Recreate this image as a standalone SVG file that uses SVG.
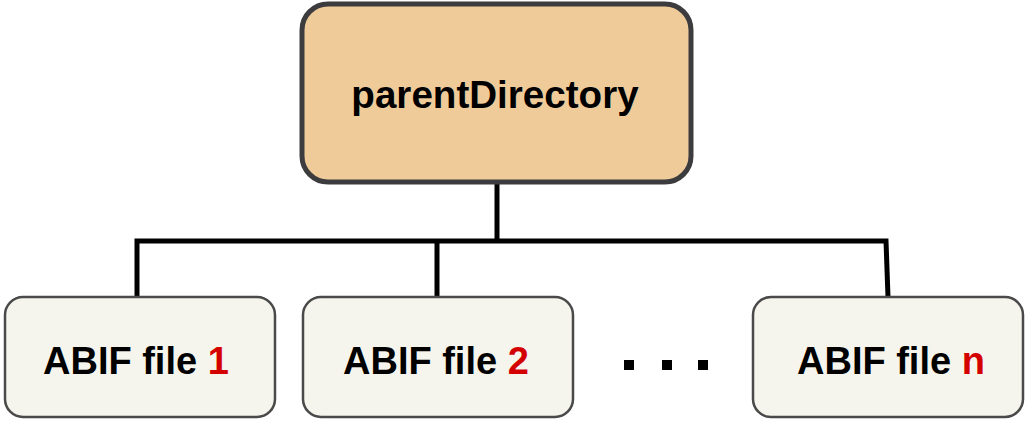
<svg xmlns="http://www.w3.org/2000/svg" width="1028" height="425" viewBox="0 0 1028 425">
<style>
.parent{fill:#f0cb9a;stroke:#3c3c3e;stroke-width:5}
.child{fill:#f6f5ed;stroke:#4a4a4a;stroke-width:2.5}
.lbl{font-family:"Liberation Sans",Arial,sans-serif;font-weight:bold;font-size:38px;fill:#000}
.big{font-size:38.6px}
.num{fill:#d40000}
.conn{fill:none;stroke:#000;stroke-width:5;stroke-linejoin:miter}
</style>
<rect width="1028" height="425" fill="#fff"/>
<g id="connectors">
<path class="conn" d="M497 183 V241"/>
<path class="conn" d="M137 297 V241 H886 L888 297"/>
<path class="conn" d="M437 241 V297"/>
</g>
<g id="parentDirectory">
<rect class="parent" x="302" y="4" width="389" height="178" rx="26"/>
<text class="lbl big" x="495" y="108" text-anchor="middle">parentDirectory</text>
</g>
<g id="file1">
<rect class="child" x="5" y="297" width="270" height="120" rx="18"/>
<text class="lbl" x="43" y="374">ABIF file <tspan class="num">1</tspan></text>
</g>
<g id="file2">
<rect class="child" x="303" y="297" width="270" height="120" rx="18"/>
<text class="lbl" x="343" y="374">ABIF file <tspan class="num">2</tspan></text>
</g>
<g id="ellipsis">
<rect x="624" y="360" width="10" height="10" fill="#000"/>
<rect x="662" y="360" width="10" height="10" fill="#000"/>
<rect x="698" y="360" width="10" height="10" fill="#000"/>
</g>
<g id="fileN">
<rect class="child" x="753" y="297" width="270" height="120" rx="18"/>
<text class="lbl" x="797" y="374">ABIF file <tspan class="num">n</tspan></text>
</g>
</svg>
